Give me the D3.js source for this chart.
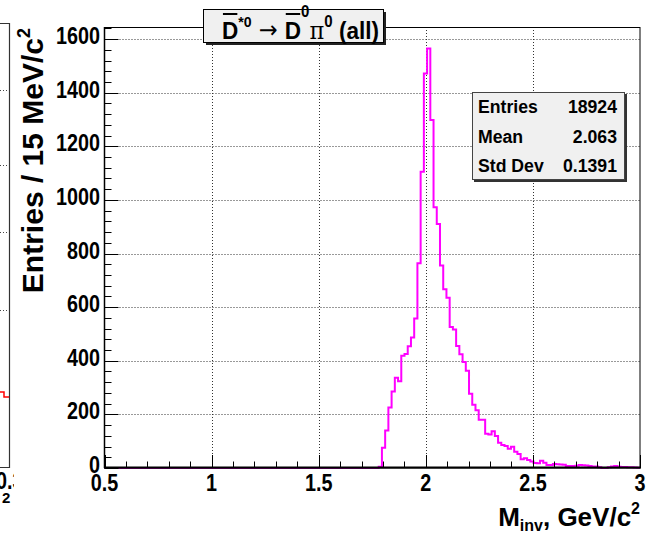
<!DOCTYPE html>
<html><head><meta charset="utf-8">
<script src="https://cdn.jsdelivr.net/npm/d3@7"></script>
<style>body{margin:0;background:#fff}svg{display:block}</style>
</head><body>
<svg id="c" width="648" height="534"></svg>
<script>
// ---------------- data ----------------
const xTicks = [0.5, 1, 1.5, 2, 2.5, 3];
const xTickLabels = ["0.5", "1", "1.5", "2", "2.5", "3"];
const yTicks = [0, 200, 400, 600, 800, 1000, 1200, 1400, 1600];
const yTickLabels = ["0", "200", "400", "600", "800", "1000", "1200", "1400", "1600"];
const binLow = 0.5, binHigh = 3.0, nBins = 166, firstFilledBin = 85;
const counts = [5,76,140,226,285,337,324,419,425,454,487,558,
  764,1105,1472,1565,1298,973,910,
  755,667,635,526,517,455,424,395,363,277,236,215,180,180,
  128,125,137,119,94,86,82,72,79,61,52,33,36,30,24,19,18,27,
  20,11,11,15,14,13,12,7,7,7,8,11,10,9,7,6,6,3,0,0,3,6,7,5,4,4,3,3,2,1];
const statNames = ["Entries", "Mean", "Std Dev"];
const statValues = ["18924", "2.063", "0.1391"];
const yMax = 1645;

// ---------------- layout ----------------
const FONT = "'Liberation Sans', Arial, Helvetica, sans-serif";
const L = 104.5, R = 640, T = 27, B = 468;
const svg = d3.select("#c");
const x = d3.scaleLinear().domain([binLow, binHigh]).range([L, R]);
const y = d3.scaleLinear().domain([0, yMax]).range([B, T]);

function label(g, px, py, txt, anchor, size, sx) {
  return g.append("text").attr("transform", `translate(${px},${py}) scale(${sx},1)`)
    .attr("text-anchor", anchor).attr("font-size", size).text(txt);
}

// left neighbour pad fragment
const lp = svg.append("g");
lp.append("path").attr("d", "M0,23.5H9.5V467.5H0").attr("fill", "none").attr("stroke", "#333").attr("stroke-width", 1.2);
[90, 165, 232, 310].forEach(v => lp.append("line").attr("x1", 0).attr("x2", 8).attr("y1", v + .5).attr("y2", v + .5)
  .attr("stroke", "#444").attr("stroke-dasharray", "1,2"));
lp.append("path").attr("d", "M0,392H4V397H9").attr("fill", "none").attr("stroke", "#f00").attr("stroke-width", 1.5);
svg.append("clipPath").attr("id", "lc").append("rect").attr("x", 0).attr("y", 460).attr("width", 14).attr("height", 74);
const lpt = svg.append("g").attr("clip-path", "url(#lc)").attr("font-family", FONT).attr("font-weight", "bold");
label(lpt, -4, 489, "0.3", "start", 23, 0.86);
lpt.append("text").attr("x", 2).attr("y", 503).attr("font-size", 15).text("2");

// grid
const grid = svg.append("g").attr("stroke", "#333").attr("stroke-width", 1).attr("stroke-dasharray", "1,2");
yTicks.filter(v => v > 0).forEach(v => grid.append("line").attr("x1", L).attr("x2", R)
  .attr("y1", Math.round(y(v)) + .5).attr("y2", Math.round(y(v)) + .5));
xTicks.filter(v => v > binLow && v < binHigh).forEach(v => grid.append("line").attr("y1", T).attr("y2", B)
  .attr("x1", Math.round(x(v)) + .5).attr("x2", Math.round(x(v)) + .5));

// histogram
const bw = (binHigh - binLow) / nBins;
const pts = [{ e: binLow, c: 0 }];
counts.forEach((c, j) => pts.push({ e: binLow + (firstFilledBin + j) * bw, c }));
pts.push({ e: binHigh, c: counts[counts.length - 1] });
const line = d3.line().x(d => x(d.e)).y(d => y(d.c)).curve(d3.curveStepAfter);
svg.append("path").attr("d", line(pts)).attr("fill", "none").attr("stroke", "#ff00ff").attr("stroke-width", 2);

// frame
svg.append("rect").attr("x", L).attr("y", T + .5).attr("width", R - L).attr("height", B - T - .5)
  .attr("fill", "none").attr("stroke", "#000").attr("stroke-width", 1);
svg.append("line").attr("x1", L).attr("x2", R + 1).attr("y1", B - .5).attr("y2", B - .5).attr("stroke", "#000").attr("stroke-width", 2);
svg.append("line").attr("x1", L).attr("x2", L).attr("y1", T).attr("y2", B).attr("stroke", "#000").attr("stroke-width", 1.5);

// ticks
const tk = svg.append("g").attr("stroke", "#000").attr("stroke-width", 1);
d3.range(0, yMax, 40).forEach(v => {
  const major = v % 200 === 0;
  const yy = Math.round(y(v)) + .5;
  tk.append("line").attr("x1", L).attr("x2", L + (major ? 14 : 7)).attr("y1", yy).attr("y2", yy);
});
d3.range(5, 31).map(v => v / 10).forEach(v => {
  const major = Math.abs(v * 2 - Math.round(v * 2)) < 1e-9;
  const xx = Math.round(x(v)) + .5;
  tk.append("line").attr("y1", B).attr("y2", B - (major ? 13 : 6.5)).attr("x1", xx).attr("x2", xx);
});

// tick labels
const lab = svg.append("g").attr("font-family", FONT).attr("font-weight", "bold").attr("fill", "#000");
yTicks.forEach((v, i) => label(lab, 100, y(v) + 5, yTickLabels[i], "end", 23, 0.86));
xTicks.forEach((v, i) => label(lab, x(v), 491, xTickLabels[i], "middle", 23, 0.86));

// axis titles
const yt = svg.append("text").attr("transform", "translate(43,28) rotate(-90)").attr("text-anchor", "end")
  .attr("font-family", FONT).attr("font-weight", "bold").attr("font-size", 30);
yt.append("tspan").text("Entries / 15 MeV/c");
yt.append("tspan").attr("font-size", 18).attr("dy", -13).text("2");

const xt = svg.append("text").attr("x", 640).attr("y", 526).attr("text-anchor", "end")
  .attr("font-family", FONT).attr("font-weight", "bold").attr("font-size", 26);
xt.append("tspan").text("M");
xt.append("tspan").attr("font-size", 16).attr("dy", 5).text("inv");
xt.append("tspan").attr("dy", -5).text(", GeV/c");
xt.append("tspan").attr("font-size", 16).attr("dy", -12).text("2");

// title box
svg.append("rect").attr("x", 206).attr("y", 12).attr("width", 180).attr("height", 33).attr("fill", "#222");
svg.append("rect").attr("x", 203.5).attr("y", 9.5).attr("width", 180).attr("height", 33).attr("fill", "#f0f0f0").attr("stroke", "#000").attr("stroke-width", 1);
const tg = svg.append("g").attr("font-family", FONT).attr("font-weight", "bold").attr("fill", "#000");
const pieces = [
  { t: "D", s: 24, dy: 0, bar: true },
  { t: "*0", s: 15, dy: -12 },
  { t: " \u2192 ", s: 24, dy: -1, arrow: true },
  { t: "D", s: 24, dy: 0, bar: true },
  { t: "0", s: 16, dy: -22 },
  { t: "\u03c0", s: 24, dy: 0, serif: true },
  { t: "0", s: 16, dy: -12 },
  { t: " (all)", s: 24, dy: 0 }
];
const titleStart = 222, titleEnd = 379, base = 39;
const inner = tg.append("g");
let cx = 0;
pieces.forEach((p, i) => {
  const el = inner.append("text").attr("x", cx).attr("y", base + p.dy).attr("font-size", p.s).style("white-space", "pre").text(p.t);
  if (p.serif) el.attr("font-family", "'DejaVu Serif', 'Liberation Serif', serif").attr("font-weight", "normal");
  if (p.arrow) el.attr("font-family", "'DejaVu Sans', sans-serif").attr("font-weight", "normal");
  const w = el.node().getComputedTextLength();
  if (p.bar) inner.append("line").attr("x1", cx + 1).attr("x2", cx + w - 1).attr("y1", 14).attr("y2", 14).attr("stroke", "#000").attr("stroke-width", 2);
  cx += w;
});
inner.attr("transform", `translate(${titleStart},0) scale(${(titleEnd - titleStart) / cx},1)`);

// stats box
svg.append("rect").attr("x", 474).attr("y", 94).attr("width", 153).attr("height", 88).attr("fill", "#333");
svg.append("rect").attr("x", 472.5).attr("y", 92.5).attr("width", 152).attr("height", 87).attr("fill", "#f0f0f0").attr("stroke", "#444").attr("stroke-width", 1);
const st = svg.append("g").attr("font-family", FONT).attr("font-weight", "bold").attr("fill", "#000");
statNames.forEach((n, i) => {
  label(st, 478, 113 + i * 29.5, n, "start", 19, 0.93);
  label(st, 617, 113 + i * 29.5, statValues[i], "end", 19, 0.93);
});
</script>
</body></html>
